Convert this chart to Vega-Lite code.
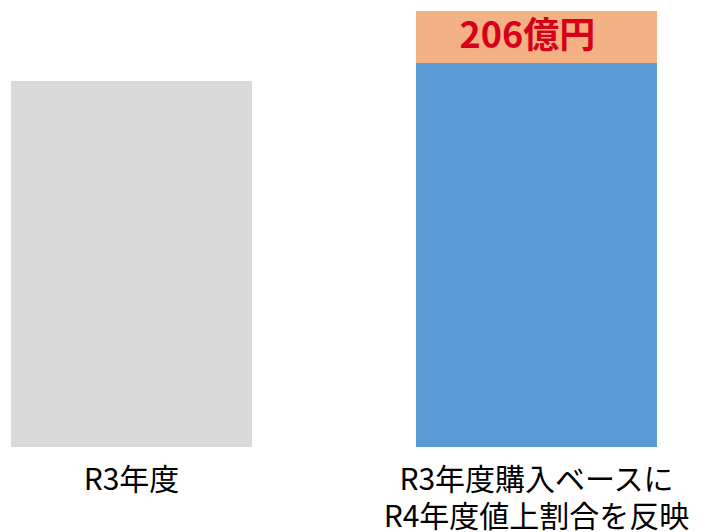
{
  "$schema": "https://vega.github.io/schema/vega-lite/v6.json",
  "width": 720,
  "height": 447,
  "autosize": {"type": "none"},
  "padding": {"top": 0, "left": 0, "right": 0, "bottom": 85},
  "background": "white",
  "config": {"view": {"stroke": null}, "font": "Noto Sans CJK JP"},
  "data": {
    "values": [
      {"cat": "R3年度", "part": "R3年度", "order": 1, "value": 1450},
      {"cat": "R3年度購入ベースに\nR4年度値上割合を反映", "part": "ベース", "order": 1, "value": 1521},
      {"cat": "R3年度購入ベースに\nR4年度値上割合を反映", "part": "値上", "order": 2, "value": 206}
    ]
  },
  "encoding": {
    "x": {
      "field": "cat",
      "type": "nominal",
      "sort": null,
      "scale": {"paddingInner": 0.405, "paddingOuter": 0.0914, "align": 0.1486},
      "axis": {
        "title": null,
        "domain": false,
        "ticks": false,
        "labelAngle": 0,
        "labelFontSize": 30,
        "labelColor": "#000000",
        "labelFont": "Noto Sans CJK JP",
        "labelPadding": 18,
        "labelLineHeight": 37,
        "labelLimit": 0,
        "labelOverlap": false,
        "labelExpr": "split(datum.label, '\\n')"
      }
    }
  },
  "layer": [
    {
      "mark": {"type": "bar"},
      "encoding": {
        "y": {
          "field": "value",
          "type": "quantitative",
          "stack": "zero",
          "scale": {"domain": [0, 1771], "nice": false},
          "axis": null
        },
        "color": {
          "field": "part",
          "type": "nominal",
          "scale": {"domain": ["R3年度", "ベース", "値上"], "range": ["#d9d9d9", "#5b9bd5", "#f4b183"]},
          "legend": null
        },
        "order": {"field": "order", "type": "quantitative"}
      }
    },
    {
      "transform": [
        {"stack": "value", "groupby": ["cat"], "sort": [{"field": "order"}], "as": ["v0", "v1"]},
        {"filter": "datum.part === '値上'"},
        {"calculate": "(datum.v0 + datum.v1) / 2", "as": "mid"},
        {"calculate": "datum.value + '億円'", "as": "label"}
      ],
      "mark": {"type": "text", "fontSize": 36, "fontWeight": "bold", "color": "#d7001b", "dx": -9, "baseline": "middle", "font": "Noto Sans CJK JP"},
      "encoding": {
        "y": {"field": "mid", "type": "quantitative"},
        "text": {"field": "label", "type": "nominal"}
      }
    }
  ]
}
